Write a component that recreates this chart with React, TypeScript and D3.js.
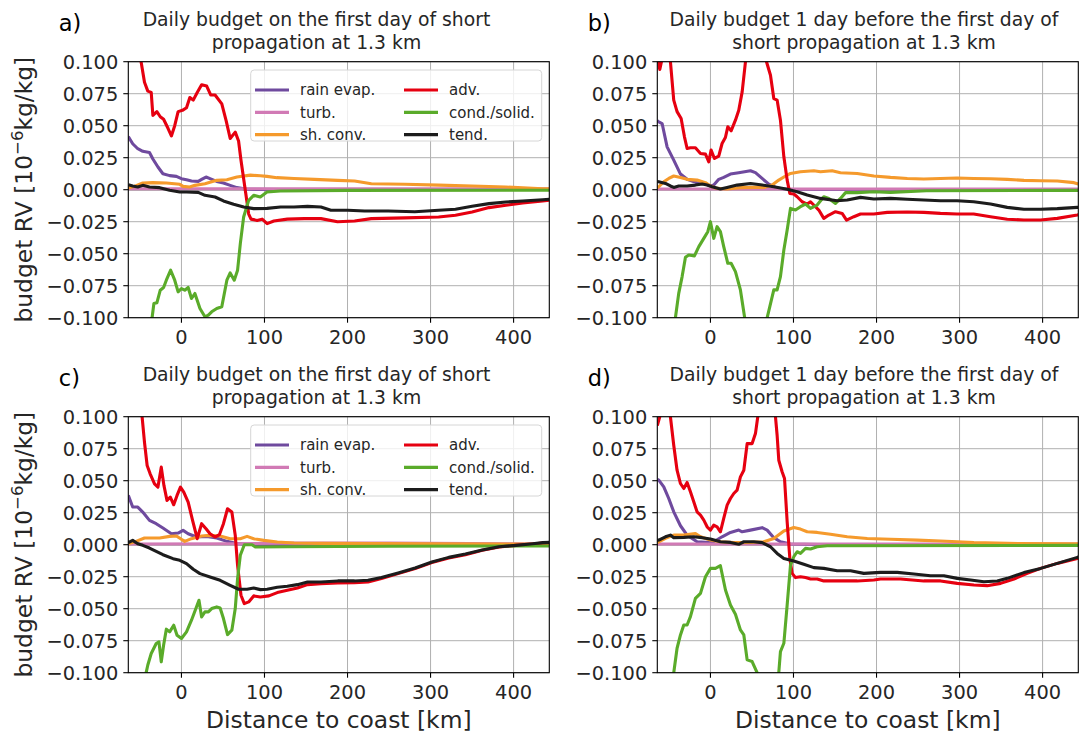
import React from 'react';
import * as d3 from 'd3';

type Pt = [number, number];

const xTickValues = [0, 100, 200, 300, 400];
const yTickValues = [-0.1, -0.075, -0.05, -0.025, 0, 0.025, 0.05, 0.075, 0.1];
const seriesNames = ['rain evap.', 'turb.', 'sh. conv.', 'adv.', 'cond./solid.', 'tend.'];
const seriesColors = ['#6f4a9e', '#d17ab5', '#f59a2c', '#e60010', '#5aab2a', '#1c1c1c'];

// ---- panel a: first day of short propagation ----
const evapA: Pt[] = [[-64,0.0416],[-58.7,0.0359],[-52.6,0.032],[-46.6,0.030],[-38.5,0.029],[-34.4,0.024],[-28.3,0.0177],[-22.3,0.0125],[-14.2,0.011],[-6.1,0.0104],[0,0.0086],[6.1,0.0078],[12.1,0.0068],[20.2,0.0065],[24.3,0.008],[29.6,0.0099],[34.4,0.0086],[42.5,0.0065],[50.6,0.0052],[58.7,0.0034],[66.8,0.0016],[79,0.0003],[120,0.0002],[443,0.0002]];
const turbA: Pt[] = [[-64,0.0008],[443,0.0008]];
const convA: Pt[] = [[-64,0.0013],[-56.7,0.0026],[-46.6,0.0052],[-34.4,0.0055],[-18.2,0.0052],[-2,0.0042],[2,0.0026],[10,0.0021],[16.2,0.0034],[28.3,0.0047],[42.5,0.0073],[54.7,0.0078],[66.8,0.0099],[83,0.0114],[95,0.0109],[103,0.0104],[115,0.0094],[135.6,0.0088],[160,0.0081],[188,0.0073],[208.5,0.0068],[228.7,0.0047],[269,0.0042],[309.7,0.0036],[350,0.0029],[390.7,0.0021],[435,0.0008],[443,0.0007]];
const advA: Pt[] = [[-64,0.135],[-55,0.115],[-48.6,0.1],[-44.5,0.084],[-40.5,0.077],[-36.4,0.076],[-34.4,0.058],[-29.6,0.061],[-25.5,0.057],[-21.5,0.055],[-16.2,0.048],[-12.1,0.042],[-8.1,0.05],[-4,0.061],[1.2,0.062],[6.1,0.064],[10.1,0.072],[14.2,0.070],[19,0.076],[24.3,0.082],[30.4,0.081],[35.2,0.074],[40.5,0.074],[48.6,0.067],[53.8,0.054],[58.7,0.040],[64.8,0.045],[68.8,0.038],[71.7,0.023],[76.9,-0.0005],[81,-0.019],[83.8,-0.023],[91.1,-0.024],[97.2,-0.023],[103.2,-0.0265],[111.3,-0.0245],[127.5,-0.023],[147.8,-0.0226],[168,-0.0226],[188,-0.025],[208.5,-0.0245],[228.7,-0.0226],[269.2,-0.022],[309.7,-0.0213],[330,-0.020],[350,-0.0174],[370.4,-0.014],[390.7,-0.0122],[411,-0.0104],[435,-0.0088],[443,-0.0082]];
const condA: Pt[] = [[-64,-0.16],[-45,-0.12],[-36.4,-0.102],[-35.2,-0.0993],[-33.2,-0.089],[-29.6,-0.0884],[-25.5,-0.0785],[-21.5,-0.0764],[-18.2,-0.0707],[-13,-0.0629],[-8.1,-0.0707],[-4,-0.0798],[0,-0.0772],[4,-0.0785],[8.1,-0.0764],[12.1,-0.085],[16.2,-0.0811],[22.3,-0.0928],[28.3,-0.0993],[32.4,-0.098],[36.4,-0.0954],[42.5,-0.0928],[48.6,-0.0915],[54.7,-0.0707],[58.7,-0.065],[63.6,-0.0707],[67.6,-0.0629],[70.9,-0.0421],[74.9,-0.0213],[81,-0.0083],[87,-0.0044],[95,-0.0057],[103,-0.0018],[119,-0.001],[200,-0.0005],[443,-0.0004]];
const tendA: Pt[] = [[-64,0.0039],[-58.7,0.0029],[-52.6,0.0021],[-46.6,0.0034],[-38.5,0.0021],[-26.3,0.0016],[-14.2,-0.0005],[-2,-0.0018],[6.1,-0.0018],[20.2,-0.0021],[28.3,-0.0044],[40.5,-0.0057],[50.6,-0.0088],[62.8,-0.0114],[75,-0.0135],[87,-0.0148],[103,-0.0146],[119.4,-0.0135],[135.6,-0.0135],[151.8,-0.013],[168,-0.0135],[180,-0.016],[200.4,-0.016],[220.6,-0.0166],[249,-0.0166],[281,-0.0172],[309.7,-0.016],[330,-0.0153],[350,-0.013],[370.4,-0.0109],[390.7,-0.0096],[411,-0.0088],[435,-0.0078],[443,-0.0075]];

// ---- panel b: one day before ----
const evapB: Pt[] = [[-64,0.054],[-62.2,0.053],[-58.2,0.0517],[-52.2,0.0335],[-44.2,0.0231],[-36.1,0.0122],[-28.1,0.0081],[-16.1,0.0055],[-6,0.0044],[0,0.0029],[4,0.0036],[10,0.0081],[16,0.0096],[24,0.0122],[34,0.0133],[48.2,0.0148],[54.2,0.0133],[62.2,0.0088],[70.3,0.0044],[80.3,0.0013],[92.4,0.0003],[130,0.0002],[443,0.0002]];
const turbB: Pt[] = [[-64,0.0006],[443,0.0006]];
const convB: Pt[] = [[-64,0.0015],[-62.2,0.0023],[-56.2,0.0062],[-50.2,0.0088],[-44.2,0.0107],[-36.1,0.0096],[-28.1,0.0081],[-16.1,0.0075],[-6,0.0055],[0,0.0029],[8,0.001],[20,0.0005],[36.1,0.0016],[52.2,0.0018],[64.3,0.0018],[74.3,0.0036],[82.3,0.0075],[90.4,0.0107],[96.4,0.0127],[108.4,0.014],[124.5,0.0148],[132.5,0.014],[146.6,0.0148],[156.6,0.0133],[176.7,0.0127],[196.8,0.0107],[216.9,0.0096],[237,0.0088],[257,0.0083],[277,0.0088],[297,0.0091],[317,0.0088],[337.3,0.0086],[357.4,0.0081],[377.5,0.0073],[397.6,0.007],[417.7,0.0068],[437.8,0.0055],[443,0.0044]];
const advB: Pt[] = [[-64,0.105],[-61,0.094],[-59,0.1],[-56,0.115],[-52,0.12],[-48.2,0.1],[-44.2,0.070],[-40.2,0.061],[-35.3,0.0556],[-31.3,0.0413],[-28.1,0.0322],[-24.1,0.0328],[-18.1,0.0328],[-12,0.0283],[-6,0.0278],[-2,0.0218],[0.8,0.031],[4.8,0.0244],[10,0.0263],[14,0.0361],[18,0.0408],[20.9,0.0491],[24.9,0.046],[30.1,0.0543],[34.1,0.0621],[38.2,0.0764],[42.2,0.1],[48,0.125],[55,0.135],[62,0.12],[67.5,0.1],[72.3,0.0894],[76.3,0.0712],[80.3,0.070],[84.3,0.0543],[88.4,0.0257],[92.4,0.0075],[95.6,-0.0029],[100.4,-0.0034],[104.4,-0.0055],[110.4,-0.0094],[116.5,-0.0112],[120.5,-0.0094],[126.5,-0.0133],[130.5,-0.0159],[136.5,-0.0224],[142.6,-0.0198],[150.6,-0.0172],[158.6,-0.0185],[163.9,-0.0237],[172.7,-0.0211],[180.7,-0.019],[196.8,-0.019],[212.9,-0.0177],[237,-0.0174],[257,-0.0177],[277,-0.0185],[297,-0.019],[317,-0.019],[337.3,-0.0211],[357.4,-0.0231],[377.5,-0.0237],[397.6,-0.0237],[417.7,-0.0224],[441.8,-0.0198],[443,-0.0196]];
const condB: Pt[] = [[-64,-0.16],[-50,-0.125],[-42.2,-0.1],[-38.2,-0.081],[-34.1,-0.0679],[-30.1,-0.0528],[-26.1,-0.051],[-19.3,-0.0517],[-14,-0.0445],[-8,-0.038],[-3.2,-0.0328],[0,-0.025],[4,-0.038],[8,-0.0289],[12,-0.0328],[16,-0.0445],[20.9,-0.0575],[24.9,-0.0575],[30.1,-0.064],[36.1,-0.0783],[41,-0.099],[48,-0.125],[55,-0.135],[62,-0.12],[68.3,-0.1],[71.5,-0.0913],[76.3,-0.0783],[80.3,-0.0783],[84.3,-0.0679],[88.4,-0.0471],[92.4,-0.0315],[96.4,-0.0146],[102.4,-0.0159],[108.4,-0.0133],[114.5,-0.0112],[120.5,-0.0146],[128.5,-0.012],[136.5,-0.0055],[142.6,-0.0068],[150.6,-0.0107],[156.6,-0.0068],[162.7,-0.0023],[176.7,-0.0023],[196.8,-0.0016],[216.9,-0.0021],[260,-0.0008],[443,-0.0005]];
const tendB: Pt[] = [[-64,0.0064],[-62.2,0.0062],[-54.2,0.0049],[-48.2,0.0029],[-44.2,0.0018],[-38.2,0.0029],[-28.1,0.0029],[-18.1,0.0036],[-10,0.0044],[-4,0.0036],[2,0.0023],[12,0.0005],[20,0.0018],[32.1,0.0036],[48.2,0.0049],[60.2,0.0039],[76.3,0.0023],[92.4,0.0003],[104.4,-0.0016],[116.5,-0.0042],[132.5,-0.0068],[152.6,-0.0086],[164.7,-0.0081],[180.7,-0.006],[196.8,-0.0073],[216.9,-0.0068],[237,-0.0075],[257,-0.0081],[277,-0.0086],[297,-0.0086],[317,-0.0094],[337.3,-0.0112],[357.4,-0.0138],[377.5,-0.0153],[397.6,-0.0153],[417.7,-0.0148],[441.8,-0.0138],[443,-0.0138]];

// ---- panel c: first day of short propagation ----
const evapC: Pt[] = [[-64,0.0385],[-58.7,0.0294],[-52.6,0.0294],[-46.6,0.0255],[-38.5,0.019],[-30.4,0.0164],[-22.3,0.013],[-12.1,0.0086],[-4,0.0091],[2,0.0112],[8.1,0.0086],[18.2,0.006],[30.4,0.0065],[42.5,0.0052],[54.7,0.0026],[66.8,0.001],[79,0.0003],[120,0.0002],[443,0.0002]];
const turbC: Pt[] = [[-64,0.0006],[60,0.0007],[120,0.0012],[250,0.0012],[400,0.0007],[443,0.0006]];
const convC: Pt[] = [[-64,0.0008],[-54.7,0.0026],[-44.5,0.0052],[-26.3,0.0052],[-14.2,0.0065],[-6.1,0.0068],[0,0.0042],[4,0.0026],[12.1,0.0047],[24.3,0.0068],[34.4,0.0073],[46.6,0.0068],[58.7,0.0047],[70.9,0.0047],[79,0.0065],[87,0.0047],[99.2,0.0034],[115.4,0.0021],[135.6,0.0013],[168,0.001],[300,0.0008],[443,0.0005]];
const advC: Pt[] = [[-64,0.16],[-52,0.12],[-47.4,0.1],[-44.5,0.08],[-41.3,0.0619],[-37.7,0.0554],[-32.4,0.0476],[-28.3,0.045],[-24.3,0.0606],[-21.1,0.0463],[-17.4,0.0346],[-13.4,0.0372],[-9.3,0.0312],[-5.3,0.0385],[-1.2,0.045],[2.8,0.0411],[8.1,0.0333],[13.4,0.019],[19,0.0047],[24.3,0.0164],[29.6,0.0125],[34.4,0.0086],[40.5,0.006],[45.7,0.0078],[50.6,0.0164],[55.5,0.0281],[60.7,0.0255],[64.8,0.0073],[67.6,-0.0161],[71.7,-0.0395],[75.7,-0.046],[81,-0.0447],[87,-0.04],[95,-0.0408],[105.3,-0.04],[115.4,-0.0374],[127.5,-0.0356],[139.7,-0.0338],[151.8,-0.0312],[168,-0.0304],[188.3,-0.0299],[208.5,-0.0296],[224.7,-0.0291],[240.9,-0.0265],[261,-0.0226],[281.4,-0.0187],[301.6,-0.014],[321.9,-0.0104],[342,-0.0078],[362.3,-0.0044],[382.6,-0.0018],[402.8,-0.0005],[423,0.0005],[435.2,0.0013],[443,0.0015]];
const condC: Pt[] = [[-64,-0.15],[-50,-0.12],[-42.5,-0.1],[-40.5,-0.094],[-36.4,-0.085],[-30.4,-0.0772],[-27.1,-0.0759],[-24.3,-0.0915],[-21.5,-0.0785],[-18.2,-0.066],[-14.2,-0.0681],[-9.3,-0.0629],[-5.3,-0.0707],[0,-0.0733],[6.1,-0.0681],[12.1,-0.059],[17.4,-0.0499],[21.1,-0.0434],[24.3,-0.0564],[28.3,-0.0525],[32.4,-0.0525],[36.4,-0.0499],[42.5,-0.0486],[46.6,-0.0494],[50.6,-0.0577],[55.5,-0.0702],[60.7,-0.0668],[64.8,-0.0499],[67.6,-0.0265],[70.9,-0.0083],[75.7,0],[85,0],[89,-0.0018],[127.5,-0.0016],[250,-0.0012],[443,-0.001]];
const tendC: Pt[] = [[-64,0.0016],[-58.7,0.0034],[-52.6,0.0008],[-46.6,-0.0005],[-38.5,-0.0026],[-30.4,-0.0052],[-22.3,-0.0078],[-10.1,-0.0109],[-2,-0.0122],[6.1,-0.0148],[14.2,-0.0192],[22.3,-0.0226],[34.4,-0.0252],[46.6,-0.0278],[58.7,-0.0317],[68.8,-0.0348],[79,-0.0348],[87,-0.0338],[95.1,-0.0351],[103.2,-0.0348],[115.4,-0.0333],[127.5,-0.0325],[139.7,-0.0312],[151.8,-0.0291],[168,-0.0291],[188.3,-0.0283],[208.5,-0.0283],[224.7,-0.0278],[240.9,-0.0257],[261,-0.0221],[281.4,-0.0182],[301.6,-0.0135],[321.9,-0.0099],[342,-0.0073],[362.3,-0.0042],[382.6,-0.0016],[402.8,-0.0005],[423,0.0008],[435.2,0.0016],[443,0.0018]];

// ---- panel d: one day before ----
const evapD: Pt[] = [[-64,0.051],[-62.2,0.0504],[-56.2,0.0452],[-50.2,0.0361],[-44.2,0.0257],[-36.1,0.0148],[-28.1,0.0075],[-16.1,0.0023],[-6,0.0018],[4,0.0023],[14,0.0062],[24.1,0.0096],[34.1,0.0114],[38.2,0.0101],[48.2,0.0114],[62.2,0.0133],[68.3,0.0114],[76.3,0.0055],[84.3,0.0023],[96.4,0.0005],[130,0.0002],[443,0.0002]];
const turbD: Pt[] = [[-64,0.0006],[443,0.0006]];
const convD: Pt[] = [[-64,0.0015],[-62.2,0.0023],[-54.2,0.0049],[-44.2,0.0075],[-32.1,0.0075],[-18.1,0.0088],[-12,0.0062],[0,0.0036],[12,0.0023],[28.1,0.0016],[48.2,0.0018],[64.3,0.0023],[76.3,0.0049],[88.4,0.0107],[100.4,0.0135],[108.4,0.0122],[116.5,0.0101],[128.5,0.0096],[144.6,0.0081],[164.7,0.0062],[188.8,0.0049],[216.9,0.0042],[249,0.0036],[277.1,0.0029],[297.2,0.0023],[317.3,0.0016],[357.4,0.001],[443,0.0008]];
const advD: Pt[] = [[-64,0.093],[-61,0.1],[-56,0.12],[-50,0.11],[-48.2,0.1],[-44.2,0.0777],[-40.2,0.0582],[-36.1,0.0478],[-32.1,0.0439],[-28.1,0.0486],[-24.1,0.0413],[-20.1,0.0335],[-16.1,0.0257],[-12,0.0231],[-8,0.0192],[-4,0.014],[0,0.0114],[4,0.0153],[8,0.014],[12,0.0101],[16,0.0205],[20.1,0.0309],[24.1,0.0361],[28.1,0.04],[32.1,0.0426],[36.1,0.053],[40.2,0.0582],[44.2,0.079],[50.2,0.079],[54.2,0.0868],[57,0.1],[62,0.12],[70,0.13],[76,0.115],[78.3,0.1],[80.3,0.0855],[82.3,0.066],[86.3,0.057],[89.2,0.0517],[92.4,0.0179],[95.6,-0.0107],[98.4,-0.0224],[102.4,-0.0257],[108.4,-0.025],[114.5,-0.0257],[120.5,-0.0268],[128.5,-0.0268],[136.5,-0.0283],[156.6,-0.0283],[176.7,-0.0283],[196.8,-0.0276],[204.8,-0.0268],[228.9,-0.0268],[257,-0.0283],[277.1,-0.0283],[297.2,-0.0302],[317.3,-0.0315],[333.3,-0.032],[349.4,-0.0302],[365.5,-0.0268],[381.5,-0.0224],[397.6,-0.0185],[417.7,-0.0146],[441.8,-0.0107],[443,-0.0105]];
const condD: Pt[] = [[-64,-0.16],[-52,-0.125],[-44.2,-0.1],[-40.2,-0.0809],[-36.1,-0.0705],[-32.1,-0.0627],[-28.1,-0.0627],[-24.1,-0.0562],[-18.1,-0.0419],[-12,-0.038],[-6,-0.025],[0,-0.0185],[6,-0.0185],[12,-0.0164],[18.1,-0.0354],[24.1,-0.0471],[30.1,-0.0543],[36.1,-0.0666],[40.2,-0.0705],[44.2,-0.09],[50.2,-0.0913],[56.2,-0.1],[62,-0.12],[70,-0.13],[78,-0.115],[82.3,-0.1],[84.3,-0.0835],[88.4,-0.077],[92.4,-0.0471],[96.4,-0.0159],[100.4,-0.0094],[104.4,-0.0055],[108.4,-0.0068],[114.5,-0.0029],[120.5,-0.0034],[128.5,-0.0016],[140.6,-0.0008],[443,-0.0005]];
const tendD: Pt[] = [[-64,0.0034],[-62.2,0.0036],[-54.2,0.0062],[-48.2,0.0075],[-44.2,0.0055],[-32.1,0.0057],[-20.1,0.0062],[-10,0.0055],[0,0.0044],[12,0.0023],[24.1,0.0018],[34.1,0.0003],[40.2,0.0023],[52.2,0.0023],[62.2,0.0016],[72.3,-0.0016],[80.3,-0.0068],[88.4,-0.0107],[100.4,-0.0127],[112.4,-0.0153],[124.5,-0.0179],[136.5,-0.0185],[152.6,-0.0203],[168.7,-0.0203],[184.7,-0.0224],[204.8,-0.0216],[224.9,-0.0216],[245,-0.0229],[265,-0.0242],[281.1,-0.0242],[297.2,-0.0263],[313.3,-0.0276],[329.3,-0.0289],[345.4,-0.0283],[357.4,-0.0263],[377.5,-0.0218],[397.6,-0.0185],[417.7,-0.0146],[441.8,-0.0099],[443,-0.0097]];

const titleFirstDay = ['Daily budget on the first day of short', 'propagation at 1.3 km'];
const titleDayBefore = ['Daily budget 1 day before the first day of', 'short propagation at 1.3 km'];

const FONT = "'DejaVu Sans', Verdana, sans-serif";
const TEXT = '#262626';
const W = 1082;
const H = 733;
const PW = 421;
const PH = 256;
const X_DOMAIN: [number, number] = [-64, 443];
const Y_DOMAIN: [number, number] = [-0.1, 0.1];

interface PanelSpec {
  id: string;
  letter: string;
  left: number;
  top: number;
  titleX: number;
  title: string[];
  series: Pt[][];
  legend: boolean;
  yLabel: boolean;
  xLabel: boolean;
}

const panels: PanelSpec[] = [
  { id: 'a', letter: 'a)', left: 128.3, top: 61.7, titleX: 316.5, title: titleFirstDay, series: [evapA, turbA, convA, advA, condA, tendA], legend: true, yLabel: true, xLabel: false },
  { id: 'b', letter: 'b)', left: 657.3, top: 61.7, titleX: 864, title: titleDayBefore, series: [evapB, turbB, convB, advB, condB, tendB], legend: false, yLabel: false, xLabel: false },
  { id: 'c', letter: 'c)', left: 128.3, top: 416.7, titleX: 316.5, title: titleFirstDay, series: [evapC, turbC, convC, advC, condC, tendC], legend: true, yLabel: true, xLabel: true },
  { id: 'd', letter: 'd)', left: 657.3, top: 416.7, titleX: 864, title: titleDayBefore, series: [evapD, turbD, convD, advD, condD, tendD], legend: false, yLabel: false, xLabel: true },
];

const fmtY = (v: number) => {
  const s = Math.abs(v).toFixed(3);
  return v < -1e-9 ? '\u2212' + s : s;
};

function Panel({ p }: { p: PanelSpec }) {
  const x = d3.scaleLinear().domain(X_DOMAIN).range([p.left, p.left + PW]);
  const y = d3.scaleLinear().domain(Y_DOMAIN).range([p.top + PH, p.top]);
  const line = d3.line<Pt>().x((d) => x(d[0])).y((d) => y(d[1]));
  const clipId = `clip-${p.id}`;
  const right = p.left + PW;
  const bottom = p.top + PH;

  // legend geometry (two columns, three rows)
  const lgRight = right - 7.6;
  const lgLeft = lgRight - 291;
  const lgTop = p.top + 8.3;
  const rowY = [20, 42.3, 64.6];

  return (
    <g>
      <defs>
        <clipPath id={clipId}>
          <rect x={p.left} y={p.top} width={PW} height={PH} />
        </clipPath>
      </defs>
      {/* grid */}
      {xTickValues.map((t) => (
        <line key={`gx${t}`} x1={x(t)} x2={x(t)} y1={p.top} y2={bottom} stroke="#b0b0b0" strokeWidth={1} />
      ))}
      {yTickValues.map((t) => (
        <line key={`gy${t}`} x1={p.left} x2={right} y1={y(t)} y2={y(t)} stroke="#b0b0b0" strokeWidth={1} />
      ))}
      <g clipPath={`url(#${clipId})`}>
        <line x1={p.left} x2={right} y1={y(0)} y2={y(0)} stroke="#a0a0a0" strokeWidth={2.2} />
        {p.series.map((s, i) => (
          <path key={i} d={line(s) || ''} fill="none" stroke={seriesColors[i]} strokeWidth={3.1} strokeLinejoin="round" strokeLinecap="butt" />
        ))}
      </g>
      {/* frame */}
      <rect x={p.left} y={p.top} width={PW} height={PH} fill="none" stroke="#000" strokeWidth={1.1} />
      {/* ticks */}
      {xTickValues.map((t) => (
        <g key={`tx${t}`}>
          <line x1={x(t)} x2={x(t)} y1={bottom} y2={bottom + 5} stroke="#000" strokeWidth={1.1} />
          <text x={x(t)} y={bottom + 26} textAnchor="middle" fontFamily={FONT} fontSize={19.4} fill={TEXT}>{t}</text>
        </g>
      ))}
      {yTickValues.map((t) => (
        <g key={`ty${t}`}>
          <line x1={p.left - 5} x2={p.left} y1={y(t)} y2={y(t)} stroke="#000" strokeWidth={1.1} />
          <text x={p.left - 10} y={y(t) + 7} textAnchor="end" fontFamily={FONT} fontSize={19.4} fill={TEXT}>{fmtY(t)}</text>
        </g>
      ))}
      {/* titles */}
      {p.title.map((tl, i) => (
        <text key={i} x={p.titleX} y={p.top - 35.7 + i * 23.3} textAnchor="middle" fontFamily={FONT} fontSize={18.8} fill={TEXT}>{tl}</text>
      ))}
      <text x={p.left - 69.5} y={p.top - 30.7} fontFamily={FONT} fontSize={22.5} fill="#000">{p.letter}</text>
      {p.yLabel && (
        <text transform={`translate(32, ${(p.top + bottom) / 2}) rotate(-90)`} textAnchor="middle" fontFamily={FONT} fontSize={23.4} fill={TEXT}>
          <tspan>budget RV [10</tspan>
          <tspan fontSize={16.5} dy={-9}>{'\u22126'}</tspan>
          <tspan dy={9}>kg/kg]</tspan>
        </text>
      )}
      {p.xLabel && (
        <text x={(p.left + right) / 2} y={bottom + 55.5} textAnchor="middle" fontFamily={FONT} fontSize={23.4} fill={TEXT}>Distance to coast [km]</text>
      )}
      {p.legend && (
        <g>
          <rect x={lgLeft} y={lgTop} width={291} height={71} rx={3.5} fill="#fff" fillOpacity={0.8} stroke="#d6d6d6" strokeWidth={1} />
          {seriesNames.map((n, i) => {
            const col = Math.floor(i / 3);
            const row = i % 3;
            const lx = lgLeft + 4.3 + col * 149;
            const ly = lgTop + rowY[row] - 8.6;
            return (
              <g key={n}>
                <line x1={lx} x2={lx + 34} y1={ly + 8.6} y2={ly + 8.6} stroke={seriesColors[i]} strokeWidth={3.2} />
                <text x={lx + 45} y={ly + 8.6 + 5.3} fontFamily={FONT} fontSize={15} fill={TEXT}>{n}</text>
              </g>
            );
          })}
        </g>
      )}
    </g>
  );
}

export default function App() {
  return (
    <svg width={W} height={H} viewBox={`0 0 ${W} ${H}`} style={{ position: 'absolute', left: 0, top: 0, background: '#fff' }}>
      <rect width={W} height={H} fill="#fff" />
      {panels.map((p) => (
        <Panel key={p.id} p={p} />
      ))}
    </svg>
  );
}
